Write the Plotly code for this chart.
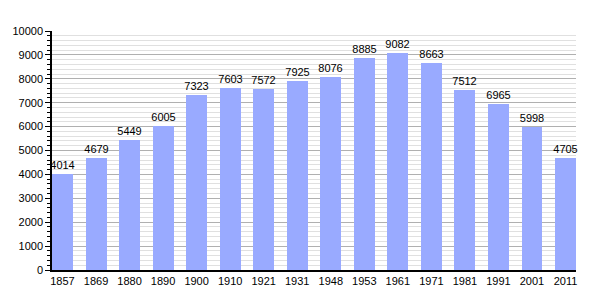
import plotly.graph_objects as go

years = ["1857", "1869", "1880", "1890", "1900", "1910", "1921", "1931", "1948",
         "1953", "1961", "1971", "1981", "1991", "2001", "2011"]
population = [4014, 4679, 5449, 6005, 7323, 7603, 7572, 7925, 8076,
              8885, 9082, 8663, 7512, 6965, 5998, 4705]

fig = go.Figure(go.Bar(
    x=years, y=population,
    marker=dict(color="#99aaff", line=dict(width=0)),
    width=0.625,
    text=[str(v) for v in population],
    textposition="outside",
    constraintext="none",
    textfont=dict(family="Liberation Sans, Arial", size=11, color="#000"),
    cliponaxis=False,
))

fig.update_layout(
    width=605, height=300,
    margin=dict(l=50, r=29, t=31, b=30),
    paper_bgcolor="white", plot_bgcolor="white",
    font=dict(family="Liberation Sans, Arial", size=11, color="#000"),
    showlegend=False,
    bargap=0,
)
fig.update_xaxes(
    type="category", range=[-0.3125, 15.3125],
    showline=True, linecolor="black", linewidth=1.5,
    ticks="", showgrid=False, tickfont=dict(size=11),
)
fig.update_yaxes(
    range=[0, 10000], dtick=1000, tickformat="d",
    showline=True, linecolor="black", linewidth=1.5,
    ticks="outside", ticklen=5, tickcolor="black",
    showgrid=True, gridcolor="#b0b0b0", gridwidth=1,
    zeroline=False,
    minor=dict(dtick=200, ticks="outside", ticklen=3, tickcolor="black",
               showgrid=True, gridcolor="#e0e0e0", gridwidth=1),
    tickfont=dict(size=11),
)

fig.write_html("out.html")
